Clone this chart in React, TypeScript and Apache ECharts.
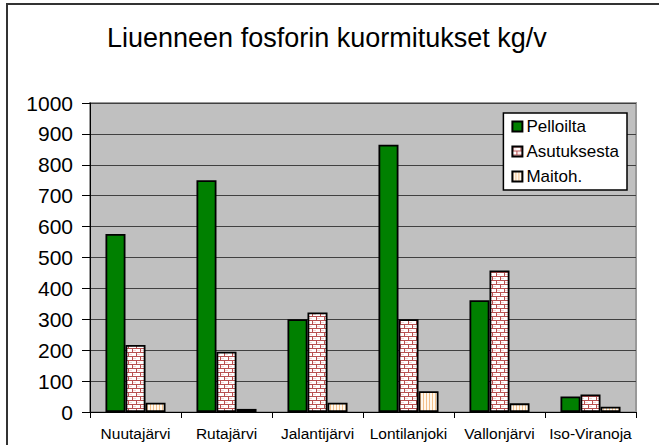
import React, { useEffect, useRef } from "react";
import * as echarts from "echarts";

const titleText = "Liuenneen fosforin kuormitukset kg/v";
const categories = ["Nuutajärvi", "Rutajärvi", "Jalantijärvi", "Lontilanjoki", "Vallonjärvi", "Iso-Viranoja"];
const seriesNames = ["Pelloilta", "Asutuksesta", "Maitoh."];
const pelloilta = [576, 750, 300, 865, 362, 50];
const asutuksesta = [217, 195, 322, 300, 458, 57];
const maitoh = [30, 10, 30, 67, 28, 17];

function brickPattern(): HTMLCanvasElement {
  const c = document.createElement("canvas");
  c.width = 8;
  c.height = 8;
  const g = c.getContext("2d")!;
  g.fillStyle = "#ffffff";
  g.fillRect(0, 0, 8, 8);
  g.fillStyle = "#b85050";
  g.fillRect(0, 0, 8, 1);
  g.fillRect(0, 4, 8, 1);
  g.fillRect(0, 0, 1, 4);
  g.fillRect(4, 4, 1, 4);
  g.fillStyle = "#f2d4d4";
  g.fillRect(1, 2, 3, 1);
  g.fillRect(5, 6, 3, 1);
  return c;
}

function stripePattern(): HTMLCanvasElement {
  const c = document.createElement("canvas");
  c.width = 3;
  c.height = 3;
  const g = c.getContext("2d")!;
  g.fillStyle = "#fff8ee";
  g.fillRect(0, 0, 3, 3);
  g.fillStyle = "#f3c08a";
  g.fillRect(0, 0, 1, 3);
  return c;
}

export default function App() {
  const ref = useRef<HTMLDivElement>(null);
  useEffect(() => {
    if (!ref.current) return;
    const chart = echarts.init(ref.current, null, { renderer: "svg" });
    const font = "Liberation Sans, Arial, sans-serif";
    const brick = { image: brickPattern(), repeat: "repeat" };
    const stripes = { image: stripePattern(), repeat: "repeat" };
    const fills: any[] = ["#008000", brick, stripes];
    const data = [pelloilta, asutuksesta, maitoh];
    chart.setOption({
      animation: false,
      backgroundColor: "#ffffff",
      textStyle: { fontFamily: font },
      title: {
        text: titleText,
        left: 102,
        top: 19,
        textStyle: { fontSize: 27, fontWeight: "normal", color: "#000", fontFamily: font },
      },
      graphic: [
        {
          type: "rect",
          shape: { x: 7, y: 4, width: 700, height: 500 },
          style: { fill: "none", stroke: "#333", lineWidth: 2 },
          silent: true,
          z: 100,
        },
      ],
      legend: {
        orient: "vertical",
        right: 32,
        top: 113,
        backgroundColor: "#ffffff",
        borderColor: "#000",
        borderWidth: 1.5,
        borderRadius: 0,
        padding: [5, 8, 5, 8],
        itemWidth: 10,
        itemHeight: 10,
        itemGap: 8,
        icon: "rect",
        textStyle: { fontSize: 17, color: "#000", fontFamily: font, padding: [0, 0, 0, -1] },
        data: seriesNames,
      },
      grid: {
        left: 90,
        right: 23,
        top: 103,
        bottom: 33,
        show: true,
        backgroundColor: "#c0c0c0",
        borderColor: "#999",
        borderWidth: 2,
      },
      xAxis: {
        type: "category",
        data: categories,
        axisLine: { lineStyle: { color: "#000", width: 1 } },
        axisTick: { show: true, length: 6, lineStyle: { color: "#000" } },
        axisLabel: { color: "#000", fontSize: 15.5, margin: 13, fontFamily: font, interval: 0 },
      },
      yAxis: {
        type: "value",
        min: 0,
        max: 1000,
        interval: 100,
        axisLine: { show: true, lineStyle: { color: "#000", width: 1 } },
        axisTick: { show: true, length: 8, lineStyle: { color: "#000" } },
        axisLabel: { color: "#000", fontSize: 21, margin: 17, fontFamily: font, formatter: (v: number) => String(v) },
        splitLine: { show: true, lineStyle: { color: "#404040", width: 1 } },
      },
      series: seriesNames.map((name, i) => ({
        name,
        type: "bar",
        data: data[i],
        barGap: "0%",
        barCategoryGap: "34%",
        itemStyle: { color: fills[i], borderColor: "#000", borderWidth: 1.8 },
      })),
    });
    return () => chart.dispose();
  }, []);
  return <div ref={ref} style={{ width: 659, height: 445, position: "absolute", left: 0, top: 0 }} />;
}
